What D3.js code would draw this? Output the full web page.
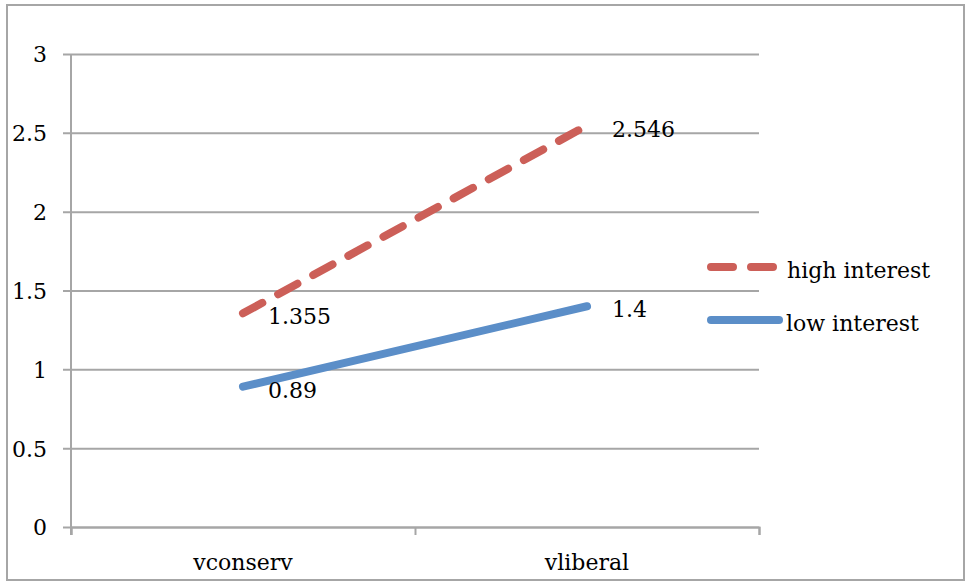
<!DOCTYPE html>
<html>
<head>
<meta charset="utf-8">
<script src="https://cdn.jsdelivr.net/npm/d3@7"></script>
<style>
  html, body { margin: 0; padding: 0; background: #fff; }
  svg { display: block; }
  text { font-family: "DejaVu Serif", serif; fill: #000; }
</style>
</head>
<body>
<script>
// Chart data
const categories = ["vconserv", "vliberal"];
const seriesNames = ["high interest", "low interest"];
const highInterest = [1.355, 2.546];
const lowInterest = [0.89, 1.4];
const yTicks = [0, 0.5, 1, 1.5, 2, 2.5, 3];

const W = 966, H = 582;
const plot = { left: 71, right: 759, top: 54, bottom: 527 };
const colors = { high: "#cc5f58", low: "#5b8ec8" };
const gridColor = "#a6a6a6";

const svg = d3.select("body").append("svg")
  .attr("width", W).attr("height", H);

// outer frame
svg.append("rect")
  .attr("x", 7).attr("y", 5)
  .attr("width", 957).attr("height", 575)
  .attr("fill", "none").attr("stroke", gridColor).attr("stroke-width", 2);

const x = d3.scaleBand().domain(categories)
  .range([plot.left, plot.right]).paddingInner(0).paddingOuter(0);
const y = d3.scaleLinear().domain([0, 3]).range([plot.bottom, plot.top]);

// horizontal gridlines + y axis labels
const yAxis = d3.axisLeft(y).tickValues(yTicks)
  .tickSize(-(plot.right - plot.left) - 8)
  .tickFormat(d3.format("~g"))
  .tickPadding(16);
const gy = svg.append("g")
  .attr("transform", `translate(${plot.left - 8},0)`)
  .call(yAxis);
gy.select(".domain").remove();
gy.selectAll(".tick line").attr("stroke", gridColor).attr("stroke-width", 2);
gy.selectAll(".tick text")
  .attr("font-size", 22).attr("font-family", "DejaVu Serif")
  .attr("fill", "#000").attr("dy", "0.36em");

// vertical axis line
svg.append("line")
  .attr("x1", plot.left).attr("x2", plot.left)
  .attr("y1", plot.top).attr("y2", plot.bottom + 8)
  .attr("stroke", gridColor).attr("stroke-width", 2);

// x axis: category boundaries as ticks, labels centred in each band
const xEdges = [plot.left, plot.left + x.bandwidth(), plot.right];
const xAxis = d3.axisBottom(d3.scaleLinear().domain([plot.left, plot.right]).range([plot.left, plot.right]))
  .tickValues(xEdges).tickSize(8).tickFormat("");
const gx = svg.append("g")
  .attr("transform", `translate(0,${plot.bottom})`)
  .call(xAxis);
gx.select(".domain").attr("stroke", gridColor).attr("stroke-width", 2);
gx.selectAll(".tick line").attr("stroke", gridColor).attr("stroke-width", 2);

svg.selectAll(".xlabel").data(categories).enter().append("text")
  .attr("class", "xlabel")
  .attr("x", d => x(d) + x.bandwidth() / 2)
  .attr("y", 570)
  .attr("text-anchor", "middle")
  .attr("font-size", 22)
  .text(d => d);

const cx = d => x(d) + x.bandwidth() / 2;
const line = d3.line().x(d => cx(d.cat)).y(d => y(d.v));

const series = [
  { name: seriesNames[0], values: highInterest, color: colors.high, dash: "22,18" },
  { name: seriesNames[1], values: lowInterest, color: colors.low, dash: null }
];

series.forEach(s => {
  const pts = categories.map((c, i) => ({ cat: c, v: s.values[i] }));
  svg.append("path")
    .datum(pts)
    .attr("d", line)
    .attr("fill", "none")
    .attr("stroke", s.color)
    .attr("stroke-width", 8)
    .attr("stroke-linecap", "round")
    .attr("stroke-dasharray", s.dash);

  svg.selectAll(null).data(pts).enter().append("text")
    .attr("x", d => cx(d.cat) + 25)
    .attr("y", d => y(d.v) + 11)
    .attr("font-size", 22)
    .text(d => d3.format("~g")(d.v));
});

// legend
const legend = svg.append("g");
series.forEach((s, i) => {
  const ly = 267 + i * 53;
  legend.append("line")
    .attr("x1", 711).attr("x2", s.dash ? 773 : 779)
    .attr("y1", ly).attr("y2", ly)
    .attr("stroke", s.color).attr("stroke-width", 8)
    .attr("stroke-linecap", "round")
    .attr("stroke-dasharray", s.dash);
  legend.append("text")
    .attr("x", i === 0 ? 787 : 786)
    .attr("y", ly + 11)
    .attr("font-size", 22)
    .text(s.name);
});
</script>
</body>
</html>
